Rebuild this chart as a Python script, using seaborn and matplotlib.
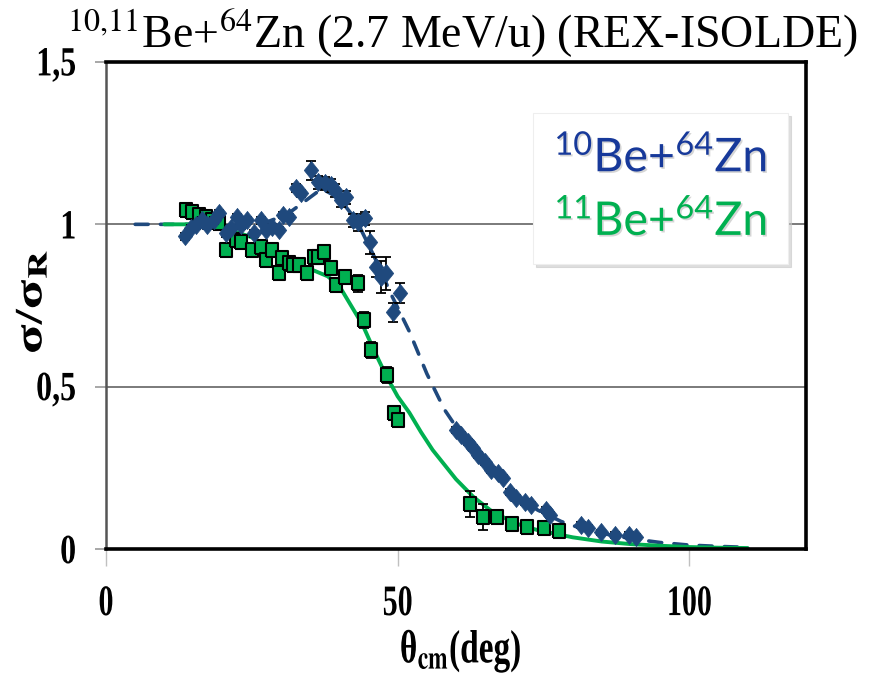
import numpy as np
import pandas as pd
import matplotlib
matplotlib.use("Agg")
import matplotlib.pyplot as plt
import seaborn as sns
from matplotlib.patheffects import AbstractPathEffect, withSimplePatchShadow
from matplotlib.transforms import Affine2D
from matplotlib.markers import MarkerStyle
from matplotlib.lines import Line2D
from matplotlib.font_manager import FontProperties

# ---------------- data ----------------
theta10 = [13.5, 14.5, 15.4, 16.4, 17.3, 18.5, 19.3, 20.5, 21.4, 22.4, 23.2, 24.1, 25.3,
           26.5, 27.4, 28.4, 29.6, 30.4, 31.3, 32.6, 33.5, 35.2, 36.4, 37.6, 38.5, 39.3,
           40.3, 41.2, 42.4, 43.2, 44.4, 45.3, 46.3, 47.2, 48.0, 49.2, 50.4,
           60.0, 60.9, 62.1, 62.9, 63.8, 65.0, 66.0, 67.2, 68.0, 69.2, 70.3, 71.8, 72.8,
           75.4, 76.1, 81.4, 82.6, 84.8, 87.2, 89.7, 90.8]
sig10 = [0.963, 0.988, 0.997, 1.012, 0.997, 1.012, 1.034, 0.972, 0.988, 1.022, 0.997, 1.012, 0.972,
         1.012, 0.982, 0.991, 0.982, 1.028, 1.022, 1.111, 1.095, 1.166, 1.129, 1.126, 1.120, 1.105,
         1.074, 1.083, 1.012, 1.006, 1.018, 0.945, 0.868, 0.837, 0.849, 0.729, 0.788,
         0.366, 0.351, 0.329, 0.311, 0.289, 0.268, 0.243, 0.234, 0.218, 0.175, 0.157, 0.145, 0.135,
         0.120, 0.105, 0.074, 0.065, 0.052, 0.043, 0.043, 0.037]
err10 = [0.01, 0.01, 0.01, 0.01, 0.01, 0.01, 0.01, 0.01, 0.01, 0.01, 0.01, 0.01, 0.01,
         0.01, 0.01, 0.01, 0.01, 0.01, 0.01, 0.012, 0.012, 0.03, 0.02, 0.02, 0.02, 0.02,
         0.02, 0.02, 0.02, 0.025, 0.02, 0.035, 0.03, 0.05, 0.05, 0.03, 0.03,
         0.01, 0.01, 0.01, 0.01, 0.01, 0.01, 0.01, 0.01, 0.01, 0.01, 0.01, 0.01, 0.01,
         0.01, 0.01, 0.008, 0.008, 0.008, 0.008, 0.008, 0.008]

theta11 = [13.7, 14.7, 15.9, 17.1, 18.1, 19.3, 20.5, 22.2, 23.2, 25.0, 26.5, 27.5, 28.4,
           29.6, 30.1, 31.3, 32.1, 33.0, 34.4, 35.6, 36.4, 37.3, 38.5, 39.5, 41.0, 43.2,
           44.2, 45.5, 48.2, 49.4, 50.1, 62.4, 64.6, 67.0, 69.6, 72.1, 75.0, 77.6]
sig11 = [1.043, 1.037, 1.028, 1.022, 1.012, 1.003, 0.920, 0.951, 0.945, 0.920, 0.929, 0.889, 0.920,
         0.849, 0.895, 0.880, 0.874, 0.874, 0.849, 0.898, 0.898, 0.914, 0.865, 0.812, 0.837, 0.818,
         0.705, 0.612, 0.535, 0.420, 0.397, 0.138, 0.098, 0.098, 0.077, 0.068, 0.065, 0.055]
err11 = [0.015, 0.015, 0.015, 0.015, 0.015, 0.015, 0.02, 0.02, 0.02, 0.02, 0.02, 0.02, 0.02,
         0.02, 0.02, 0.02, 0.02, 0.02, 0.02, 0.02, 0.02, 0.02, 0.02, 0.02, 0.02, 0.025,
         0.025, 0.025, 0.025, 0.015, 0.015, 0.04, 0.04, 0.015, 0.012, 0.012, 0.012, 0.012]

fit10_x = [5, 10, 15, 20, 25, 28, 31, 34, 37, 40, 43, 46, 49, 52, 55, 58, 61, 64, 67, 70,
           74, 78, 82, 86, 90, 95, 100, 105, 110]
fit10_y = [1.0, 1.0, 1.0, 1.0, 1.0, 1.01, 1.03, 1.07, 1.11, 1.08, 1.01, 0.90, 0.78, 0.67, 0.54,
           0.43, 0.35, 0.28, 0.22, 0.17, 0.12, 0.085, 0.06, 0.045, 0.032, 0.02, 0.012, 0.008, 0.005]

fit11_x = [10, 15, 20, 25, 30, 34, 38, 40, 42, 44, 46, 48, 50, 52, 54, 56, 58, 60, 63, 66,
           70, 74, 80, 85, 90, 95, 100, 105, 110]
fit11_y = [1.0, 1.0, 0.99, 0.96, 0.91, 0.87, 0.84, 0.81, 0.75, 0.69, 0.61, 0.535, 0.47, 0.42,
           0.36, 0.305, 0.26, 0.215, 0.16, 0.118, 0.08, 0.058, 0.036, 0.023, 0.015, 0.01, 0.006,
           0.004, 0.003]

xticks = [0, 50, 100]
xtick_labels = ["0", "50", "100"]
yticks = [0, 0.5, 1, 1.5]
ytick_labels = ["0", "0,5", "1", "1,5"]
series_labels = [r"$^{10}$Be+$^{64}$Zn", r"$^{11}$Be+$^{64}$Zn"]

BLUE = "#1F497D"
BLUE_TXT = "#17399A"
GREEN = "#00B050"


class Stretch(AbstractPathEffect):
    """Scale a text path about an anchor of its own extents."""
    def __init__(self, sx=1.0, sy=1.0, hx="center", vy="center"):
        super().__init__()
        self.sx, self.sy, self.hx, self.vy = sx, sy, hx, vy

    def draw_path(self, renderer, gc, tpath, affine, rgbFace=None):
        ext = tpath.get_extents()
        cx = {"left": ext.x0, "center": 0.5 * (ext.x0 + ext.x1), "right": ext.x1}[self.hx]
        cy = {"bottom": ext.y0, "center": 0.5 * (ext.y0 + ext.y1), "top": ext.y1}[self.vy]
        t = Affine2D().translate(-cx, -cy).scale(self.sx, self.sy).translate(cx, cy) + affine
        renderer.draw_path(gc, tpath, t, rgbFace)


sns.set_theme(style="white")
plt.rcParams["font.family"] = ["Liberation Serif", "DejaVu Serif"]
plt.rcParams["mathtext.fontset"] = "custom"
plt.rcParams["mathtext.rm"] = "Lato"
plt.rcParams["mathtext.it"] = "Lato:italic"
plt.rcParams["mathtext.bf"] = "Lato:bold"

fig, ax = plt.subplots(figsize=(8.76, 6.81), dpi=100)
fig.patch.set_facecolor("white")
fig.subplots_adjust(left=106 / 876, right=806 / 876, bottom=1 - 549 / 681, top=1 - 62 / 681)

# fits
sns.lineplot(x=fit10_x, y=fit10_y, ax=ax, color=BLUE, lw=2.6, zorder=2, sort=False)
ln10 = ax.lines[-1]
ln10.set_dashes((3.6, 3.4))
ln10.set_dash_capstyle("round")
sns.lineplot(x=fit11_x, y=fit11_y, ax=ax, color=GREEN, lw=2.8, zorder=2.1, sort=False)

# 11Be data
sq = MarkerStyle([(-0.82, -1), (0.82, -1), (0.82, 1), (-0.82, 1), (-0.82, -1)])
ax.errorbar(theta11, sig11, yerr=err11, fmt="none", ecolor="black", elinewidth=1.3,
            capsize=3.5, capthick=1.3, zorder=2.5)
sns.scatterplot(x=theta11, y=sig11, ax=ax, marker=sq, s=115, color=GREEN,
                edgecolor="black", linewidth=1.5, zorder=3)

# 10Be data
dm = MarkerStyle([(0, 1), (0.8, 0), (0, -1), (-0.8, 0), (0, 1)])
ax.errorbar(theta10, sig10, yerr=err10, fmt="none", ecolor="black", elinewidth=1.3,
            capsize=3.5, capthick=1.3, zorder=3.5)
sns.scatterplot(x=theta10, y=sig10, ax=ax, marker=dm, s=170, color=BLUE,
                edgecolor=BLUE, linewidth=0.5, zorder=4)

ax.set_xlim(0, 120)
ax.set_ylim(0, 1.5)
ax.set_xticks(xticks)
ax.set_xticklabels(xtick_labels)
ax.set_yticks(yticks)
ax.set_yticklabels(ytick_labels)

ax.yaxis.grid(True, color="#6f6f6f", lw=1.3)
ax.xaxis.grid(False)
for s in ["top", "right", "bottom"]:
    ax.spines[s].set_color("black")
    ax.spines[s].set_linewidth(2.6)
ax.spines["left"].set_color("#555555")
ax.spines["left"].set_linewidth(1.8)

ax.tick_params(axis="y", left=True, direction="out", length=8, width=1.3,
               color="#a0a0a0", pad=13.5, labelsize=23, labelcolor="black")
ax.tick_params(axis="x", bottom=True, direction="out", length=12, width=1.0,
               color="#c0c0c0", pad=14, labelsize=21.6, labelcolor="black")
for lbl in ax.get_xticklabels():
    lbl.set_fontweight("bold")
    lbl.set_path_effects([Stretch(sy=1.45, vy="top")])
for lbl in ax.get_yticklabels():
    lbl.set_fontweight("bold")
    lbl.set_path_effects([Stretch(sy=1.3, vy="center")])

# axis labels
ax.set_xlabel(r"θ$_\mathbf{cm}$(deg)", fontsize=24, fontweight="bold", color="black",
              math_fontfamily="stix")
ax.xaxis.set_label_coords(0.5 + 5 / 700, -85 / 487)
ax.xaxis.label.set_path_effects([Stretch(sy=1.4, vy="center")])

ax.set_ylabel(r"σ/σ$_\mathbf{R}$", fontsize=28, fontweight="bold", color="black",
              math_fontfamily="stix", va="center")
ax.yaxis.set_label_coords(-74 / 700, 0.5 + 4 / 487)
ax.yaxis.label.set_path_effects([Stretch(sx=1.4)])

# title
ax.set_title(r"$^{10{,}11}$Be+$^{64}$Zn (2.7 MeV/u) (REX-ISOLDE)", fontsize=33,
             color="black", math_fontfamily="stix", pad=10, x=0.509)

# legend (coloured text labels)
handles = [Line2D([], [], linestyle="none", marker=None) for _ in series_labels]
leg = ax.legend(handles, series_labels, loc="upper left",
                bbox_to_anchor=(533 / 876, 1 - 113 / 681), bbox_transform=fig.transFigure,
                borderaxespad=0, borderpad=0.45, handlelength=0, handletextpad=0,
                labelspacing=0.38, labelcolor=[BLUE_TXT, GREEN],
                prop=FontProperties(family="Lato", size=33.5, math_fontfamily="custom"),
                frameon=True, fancybox=False,
                shadow={"color": "#c8c8c8", "alpha": 0.6})
leg.get_frame().set_facecolor("white")
leg.get_frame().set_edgecolor("#eeeeee")
leg.get_frame().set_linewidth(0.8)
for t in leg.get_texts():
    t.set_path_effects([withSimplePatchShadow(offset=(1.2, -1.2), shadow_rgbFace="#888888",
                                              alpha=0.35)])

fig.savefig("out.png", dpi=100, facecolor="white")
